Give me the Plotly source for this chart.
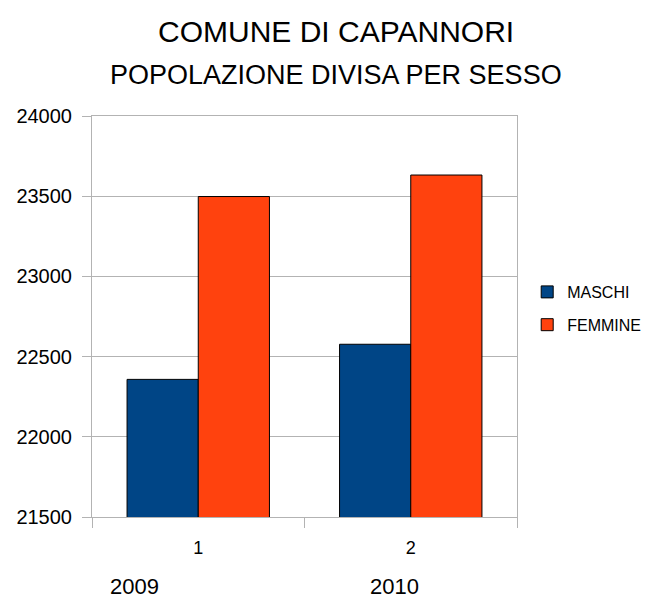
import plotly.graph_objects as go

categories = ["1", "2"]
years = ["2009", "2010"]
maschi = [22358, 22577]
femmine = [23498, 23632]
y_ticks = [21500, 22000, 22500, 23000, 23500, 24000]
y_tick_labels = ["21500", "22000", "22500", "23000", "23500", "24000"]

FONT = "Liberation Sans, Arial, sans-serif"
GRID = "#b3b3b3"

fig = go.Figure()
fig.add_trace(go.Bar(name="MASCHI", x=categories, y=maschi, legendgroup="m",
                     marker=dict(color="#004586", line=dict(color="#000000", width=1))))
fig.add_trace(go.Bar(name="FEMMINE", x=categories, y=femmine, legendgroup="f",
                     marker=dict(color="#ff420e", line=dict(color="#000000", width=1))))

# page body has an 8px margin, so the figure is drawn 8px smaller and shifted
fig.update_layout(
    width=648, height=591,
    margin=dict(l=84, r=139, t=108, b=82, autoexpand=False),
    paper_bgcolor="white", plot_bgcolor="white",
    barmode="group", bargap=0.33, bargroupgap=0,
    font=dict(family=FONT, color="#000000"),
    showlegend=True,
    legend=dict(x=1.024, y=0.52, xanchor="left", yanchor="middle",
                font=dict(size=16, family=FONT), itemwidth=30,
                tracegroupgap=9, bgcolor="rgba(0,0,0,0)"),
    xaxis=dict(type="category", tickson="boundaries", ticks="outside", ticklen=10,
               tickcolor=GRID, showgrid=False, showline=True, linecolor=GRID,
               mirror=True, tickfont=dict(size=18, family=FONT), zeroline=False,
               ticklabelstandoff=14),
    yaxis=dict(range=[21500, 24000], tickvals=y_ticks, ticktext=y_tick_labels,
               ticks="outside", ticklen=9,
               tickcolor=GRID, showgrid=True, gridcolor=GRID, showline=True,
               linecolor=GRID, mirror=True, tickfont=dict(size=20, family=FONT),
               zeroline=False, ticklabelstandoff=6),
)

fig.add_annotation(text="COMUNE DI CAPANNORI", xref="paper", yref="paper",
                   x=0.575, y=1.21, xanchor="center", yanchor="middle",
                   showarrow=False, font=dict(size=30, family=FONT))
fig.add_annotation(text="POPOLAZIONE DIVISA PER SESSO", xref="paper", yref="paper",
                   x=0.575, y=1.102, xanchor="center", yanchor="middle",
                   showarrow=False, font=dict(size=27, family=FONT))
for xp, yr in zip([0.0995, 0.711], years):
    fig.add_annotation(text=yr, xref="paper", yref="paper", x=xp, y=-0.174,
                       xanchor="center", yanchor="middle", showarrow=False,
                       font=dict(size=22, family=FONT))

fig.write_html("out.html")
